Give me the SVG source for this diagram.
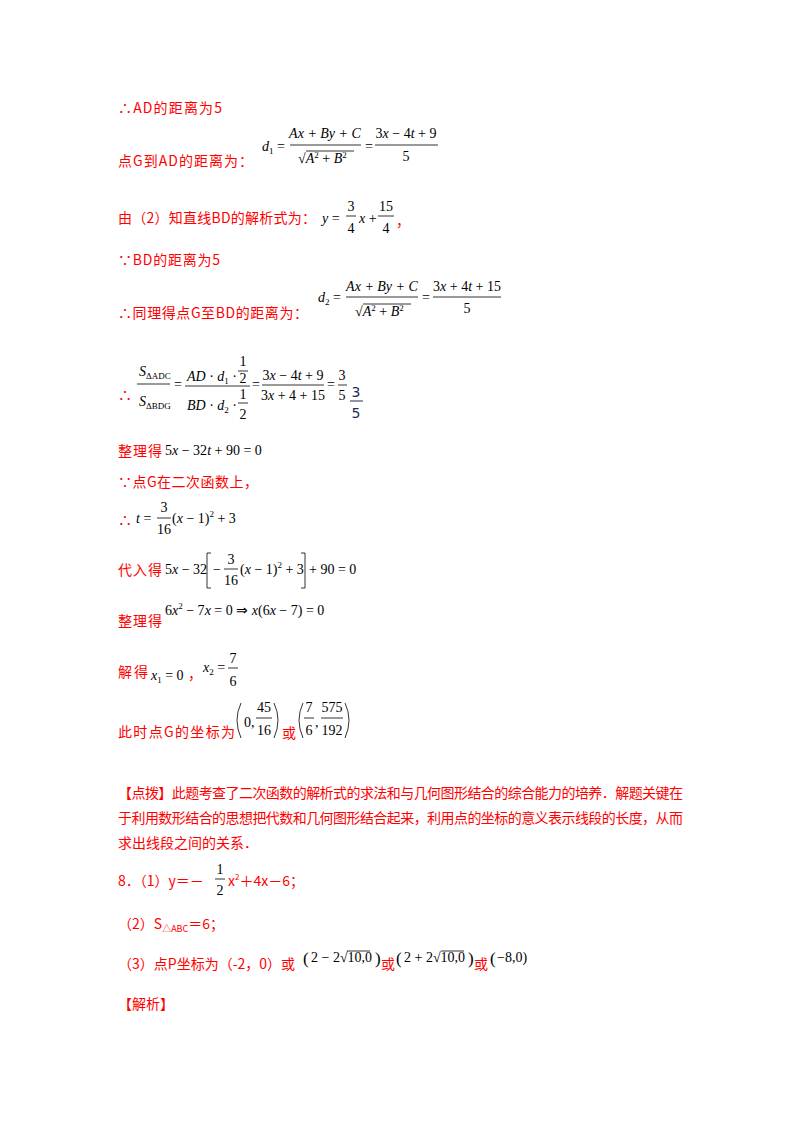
<svg xmlns="http://www.w3.org/2000/svg" width="800" height="1132" viewBox="0 0 800 1132">
<style>
.r{fill:#f00;font-family:"Noto Sans CJK SC","Liberation Serif",serif;font-size:14px}
.m{fill:#000;font-family:"Liberation Serif",serif;font-size:14px}
.i{font-style:italic}
.s{font-size:9px}
.b{stroke:#000;stroke-width:0.8;fill:none}
</style>
<rect width="800" height="1132" fill="#fff"/>
<g id="text">
<text class="r" x="118" y="113" textLength="104" lengthAdjust="spacing">∴AD的距离为5</text>
<text class="r" x="118" y="166" textLength="135" lengthAdjust="spacing">点G到AD的距离为：</text>
<text class="m" x="262" y="151"><tspan class="i">d</tspan><tspan class="s" dy="3">1</tspan><tspan dy="-3"> =</tspan></text>
<text class="m i" x="325" y="138" text-anchor="middle">Ax + By + C</text>
<line class="b" x1="290" y1="145" x2="361" y2="145"/>
<text class="m" x="298" y="163">√<tspan class="i">A</tspan><tspan class="s" dy="-5">2</tspan><tspan dy="5"> + </tspan><tspan class="i">B</tspan><tspan class="s" dy="-5">2</tspan></text>
<line class="b" x1="306" y1="151" x2="354" y2="151"/>
<text class="m" x="365" y="151">=</text>
<text class="m" x="406" y="138" text-anchor="middle">3<tspan class="i">x</tspan> − 4<tspan class="i">t</tspan> + 9</text>
<line class="b" x1="375" y1="145" x2="438" y2="145"/>
<text class="m" x="406" y="161" text-anchor="middle">5</text>

<text class="r" x="118" y="223" textLength="198" lengthAdjust="spacing">由（2）知直线BD的解析式为：</text>
<text class="m" x="322" y="223"><tspan class="i">y</tspan> =</text>
<text class="m" x="351" y="211" text-anchor="middle">3</text>
<line class="b" x1="346" y1="216" x2="356" y2="216"/>
<text class="m" x="351" y="233" text-anchor="middle">4</text>
<text class="m" x="359" y="223"><tspan class="i">x</tspan> +</text>
<text class="m" x="386" y="211" text-anchor="middle">15</text>
<line class="b" x1="378" y1="216" x2="394" y2="216"/>
<text class="m" x="386" y="233" text-anchor="middle">4</text>
<text class="r" x="396" y="226">，</text>

<text class="r" x="118" y="265" textLength="102" lengthAdjust="spacing">∵BD的距离为5</text>
<text class="r" x="118" y="318" textLength="190" lengthAdjust="spacing">∴同理得点G至BD的距离为：</text>
<text class="m" x="318" y="302"><tspan class="i">d</tspan><tspan class="s" dy="3">2</tspan><tspan dy="-3"> =</tspan></text>
<text class="m i" x="382" y="291" text-anchor="middle">Ax + By + C</text>
<line class="b" x1="346" y1="297" x2="418" y2="297"/>
<text class="m" x="355" y="316">√<tspan class="i">A</tspan><tspan class="s" dy="-5">2</tspan><tspan dy="5"> + </tspan><tspan class="i">B</tspan><tspan class="s" dy="-5">2</tspan></text>
<line class="b" x1="363" y1="304" x2="411" y2="304"/>
<text class="m" x="422" y="302">=</text>
<text class="m" x="467" y="291" text-anchor="middle">3<tspan class="i">x</tspan> + 4<tspan class="i">t</tspan> + 15</text>
<line class="b" x1="433" y1="297" x2="501" y2="297"/>
<text class="m" x="467" y="313" text-anchor="middle">5</text>

<text class="r" x="118" y="400">∴</text>
<text class="m" x="139" y="376"><tspan class="i">S</tspan><tspan class="s" dy="3">ΔADC</tspan></text>
<line class="b" x1="137" y1="384" x2="170" y2="384"/>
<text class="m" x="139" y="406"><tspan class="i">S</tspan><tspan class="s" dy="3">ΔBDG</tspan></text>
<text class="m" x="174" y="389">=</text>
<text class="m" x="187" y="381"><tspan class="i">AD</tspan> · <tspan class="i">d</tspan><tspan class="s" dy="3">1</tspan><tspan dy="-3"> ·</tspan></text>
<text class="m" x="243" y="366" text-anchor="middle">1</text>
<line class="b" x1="238" y1="371" x2="248" y2="371"/>
<text class="m" x="243" y="383" text-anchor="middle">2</text>
<line class="b" x1="185" y1="386" x2="250" y2="386"/>
<text class="m" x="187" y="410"><tspan class="i">BD</tspan> · <tspan class="i">d</tspan><tspan class="s" dy="3">2</tspan><tspan dy="-3"> ·</tspan></text>
<text class="m" x="243" y="399" text-anchor="middle">1</text>
<line class="b" x1="238" y1="403" x2="248" y2="403"/>
<text class="m" x="243" y="419" text-anchor="middle">2</text>
<text class="m" x="252" y="389">=</text>
<text class="m" x="293" y="380" text-anchor="middle">3<tspan class="i">x</tspan> − 4<tspan class="i">t</tspan> + 9</text>
<line class="b" x1="262" y1="385" x2="324" y2="385"/>
<text class="m" x="293" y="400" text-anchor="middle">3<tspan class="i">x</tspan> + 4 + 15</text>
<text class="m" x="327" y="389">=</text>
<text class="m" x="342" y="380" text-anchor="middle">3</text>
<line class="b" x1="338" y1="385" x2="347" y2="385"/>
<text class="m" x="342" y="400" text-anchor="middle">5</text>
<text x="356" y="397" text-anchor="middle" style="font-family:'DejaVu Sans',sans-serif;font-size:14px;fill:#1c2a5c">3</text>
<line x1="350" y1="401" x2="363" y2="401" stroke="#1c2a5c" stroke-width="1"/>
<text x="356" y="418" text-anchor="middle" style="font-family:'DejaVu Sans',sans-serif;font-size:14px;fill:#1c2a5c">5</text>

<text class="r" x="118" y="456" textLength="44" lengthAdjust="spacing">整理得</text>
<text class="m" x="165" y="455">5<tspan class="i">x</tspan> − 32<tspan class="i">t</tspan> + 90 = 0</text>
<text class="r" x="118" y="487" textLength="140" lengthAdjust="spacing">∵点G在二次函数上，</text>
<text class="r" x="118" y="525">∴</text>
<text class="m" x="136" y="523"><tspan class="i">t</tspan> =</text>
<text class="m" x="164" y="512" text-anchor="middle">3</text>
<line class="b" x1="157" y1="518" x2="171" y2="518"/>
<text class="m" x="164" y="534" text-anchor="middle">16</text>
<text class="m" x="172" y="523">(<tspan class="i">x</tspan> − 1)<tspan class="s" dy="-6">2</tspan><tspan dy="6"> + 3</tspan></text>

<text class="r" x="118" y="575" textLength="44" lengthAdjust="spacing">代入得</text>
<text class="m" x="165" y="574">5<tspan class="i">x</tspan> − 32</text>
<path class="b" d="M211 553 H207 V588 H211"/>
<text class="m" x="213" y="574">−</text>
<text class="m" x="231" y="564" text-anchor="middle">3</text>
<line class="b" x1="224" y1="569" x2="238" y2="569"/>
<text class="m" x="231" y="585" text-anchor="middle">16</text>
<text class="m" x="240" y="574">(<tspan class="i">x</tspan> − 1)<tspan class="s" dy="-6">2</tspan><tspan dy="6"> + 3</tspan></text>
<path class="b" d="M301 553 H305 V588 H301"/>
<text class="m" x="309" y="574">+ 90 = 0</text>

<text class="r" x="118" y="626" textLength="44" lengthAdjust="spacing">整理得</text>
<text class="m" x="165" y="615">6<tspan class="i">x</tspan><tspan class="s" dy="-6">2</tspan><tspan dy="6"> − 7</tspan><tspan class="i">x</tspan> = 0 ⇒ <tspan class="i">x</tspan>(6<tspan class="i">x</tspan> − 7) = 0</text>

<text class="r" x="118" y="677" textLength="30" lengthAdjust="spacing">解得</text>
<text class="m" x="151" y="680"><tspan class="i">x</tspan><tspan class="s" dy="3">1</tspan><tspan dy="-3"> = 0</tspan></text>
<text class="r" x="188" y="679">，</text>
<text class="m" x="203" y="672"><tspan class="i">x</tspan><tspan class="s" dy="3">2</tspan><tspan dy="-3"> =</tspan></text>
<text class="m" x="233" y="663" text-anchor="middle">7</text>
<line class="b" x1="228" y1="668" x2="238" y2="668"/>
<text class="m" x="233" y="686" text-anchor="middle">6</text>

<text class="r" x="118" y="737" textLength="117" lengthAdjust="spacing">此时点G的坐标为</text>
<path class="b" d="M241 703 Q233 720 241 738"/>
<text class="m" x="244" y="727">0,</text>
<text class="m" x="264" y="712" text-anchor="middle">45</text>
<line class="b" x1="256" y1="718" x2="272" y2="718"/>
<text class="m" x="264" y="735" text-anchor="middle">16</text>
<path class="b" d="M274 703 Q282 720 274 738"/>
<text class="r" x="282" y="738">或</text>
<path class="b" d="M303 703 Q295 720 303 738"/>
<text class="m" x="309" y="712" text-anchor="middle">7</text>
<line class="b" x1="304" y1="718" x2="314" y2="718"/>
<text class="m" x="309" y="735" text-anchor="middle">6</text>
<text class="m" x="315" y="727">,</text>
<text class="m" x="332" y="712" text-anchor="middle">575</text>
<line class="b" x1="321" y1="718" x2="343" y2="718"/>
<text class="m" x="332" y="735" text-anchor="middle">192</text>
<path class="b" d="M345 703 Q353 720 345 738"/>

<text class="r" x="118" y="798" textLength="565" lengthAdjust="spacing">【点拨】此题考查了二次函数的解析式的求法和与几何图形结合的综合能力的培养．解题关键在</text>
<text class="r" x="118" y="823" textLength="565" lengthAdjust="spacing">于利用数形结合的思想把代数和几何图形结合起来，利用点的坐标的意义表示线段的长度，从而</text>
<text class="r" x="118" y="848">求出线段之间的关系．</text>

<text class="r" x="118" y="886">8．（1）y＝－</text>
<text class="m" x="220" y="874" text-anchor="middle">1</text>
<line class="b" x1="215" y1="879" x2="225" y2="879"/>
<text class="m" x="220" y="895" text-anchor="middle">2</text>
<text class="r" x="228" y="886">x<tspan style="font-size:8px" dy="-6">2</tspan><tspan dy="6">＋4x－6；</tspan></text>
<text class="r" x="118" y="929">（2）S<tspan style="font-size:9px" dy="3">△ABC</tspan><tspan dy="-3">＝6；</tspan></text>
<text class="r" x="118" y="969">（3）点P坐标为（-2，0）或</text>
<text class="m" x="303" y="964" style="font-size:17px">(</text>
<text class="m" x="311" y="962">2 − 2√10,0</text>
<line class="b" x1="347" y1="951" x2="370" y2="951"/>
<text class="m" x="375" y="964" style="font-size:17px">)</text>
<text class="r" x="381" y="969">或</text>
<text class="m" x="396" y="964" style="font-size:17px">(</text>
<text class="m" x="404" y="962">2 + 2√10,0</text>
<line class="b" x1="441" y1="951" x2="464" y2="951"/>
<text class="m" x="468" y="964" style="font-size:17px">)</text>
<text class="r" x="474" y="969">或</text>
<text class="m" x="490" y="964" style="font-size:17px">(</text>
<text class="m" x="497" y="962">−8,0)</text>
<text class="r" x="118" y="1009">【解析】</text>
</g>
</svg>
